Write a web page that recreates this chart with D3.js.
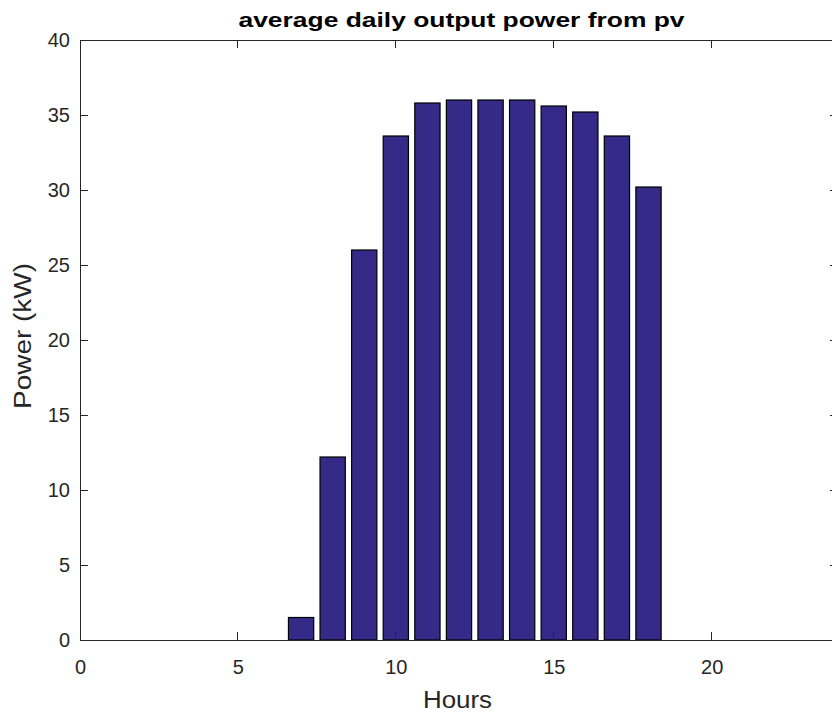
<!DOCTYPE html>
<html><head><meta charset="utf-8">
<script src="https://cdn.jsdelivr.net/npm/d3@7"></script>
<style>body{margin:0;background:#fff;}svg{display:block;font-family:"Liberation Sans",Arial,Helvetica,sans-serif;}</style>
</head><body>
<svg id="c" width="832" height="715"></svg>
<script>
const hours = [1,2,3,4,5,6,7,8,9,10,11,12,13,14,15,16,17,18,19,20,21,22,23,24];
const power = [0,0,0,0,0,0,1.5,12.2,26.0,33.6,35.8,36.0,36.0,36.0,35.6,35.2,33.6,30.2,0,0,0,0,0,0];
const xTicks = [0,5,10,15,20];
const yTicks = [0,5,10,15,20,25,30,35,40];
const title = "average daily output power from pv";
const xLabel = "Hours";
const yLabel = "Power (kW)";

const svg = d3.select("#c");
const m = {l:80, r:838, t:40, b:640};
const x = d3.scaleLinear().domain([0,24]).range([m.l, m.r]);
const y = d3.scaleLinear().domain([0,40]).range([m.b, m.t]);
const axisCol = "#262626";
const barW = x(0.8) - x(0);

// bars
svg.append("g").selectAll("rect").data(hours).join("rect")
  .attr("x", (d)=>x(d-0.4))
  .attr("y", (d,i)=>y(power[i]))
  .attr("width", barW)
  .attr("height", (d,i)=>y(0)-y(power[i]))
  .attr("fill", "#352a87")
  .attr("stroke", "#000")
  .attr("stroke-width", 1.2);

// box
const tl = 8;
const gA = svg.append("g").attr("stroke", axisCol).attr("stroke-width", 1).attr("fill","none");
gA.append("rect").attr("x", m.l).attr("y", m.t).attr("width", m.r-m.l).attr("height", m.b-m.t).attr("shape-rendering","crispEdges");

// axes
const xAx = d3.axisBottom(x).tickValues(xTicks).tickSize(0).tickPadding(20).tickFormat(d3.format("d"));
const gx = svg.append("g").attr("transform", `translate(0,${m.b})`).call(xAx);
gx.select(".domain").remove();
gx.selectAll("text").attr("font-size", 20).attr("fill", axisCol).attr("font-family","Liberation Sans, Arial, sans-serif");

const yAx = d3.axisLeft(y).tickValues(yTicks).tickSize(0).tickPadding(10).tickFormat(d3.format("d"));
const gy = svg.append("g").attr("transform", `translate(${m.l},0)`).call(yAx);
gy.select(".domain").remove();
gy.selectAll("text").attr("font-size", 20).attr("fill", axisCol).attr("font-family","Liberation Sans, Arial, sans-serif");

// inward tick marks on all four sides
xTicks.forEach(v=>{
  gA.append("line").attr("x1", x(v)).attr("x2", x(v)).attr("y1", m.b).attr("y2", m.b-tl);
  gA.append("line").attr("x1", x(v)).attr("x2", x(v)).attr("y1", m.t).attr("y2", m.t+tl);
});
yTicks.forEach(v=>{
  gA.append("line").attr("x1", m.l).attr("x2", m.l+tl).attr("y1", y(v)).attr("y2", y(v));
  gA.append("line").attr("x1", m.r).attr("x2", m.r-tl).attr("y1", y(v)).attr("y2", y(v));
});
gA.selectAll("line").attr("shape-rendering","crispEdges");

// labels
svg.append("text").attr("x", 461.5).attr("y", 27).attr("text-anchor","middle")
  .attr("font-size", 21).attr("font-weight","bold").attr("fill","#000")
  .attr("textLength", 446).attr("lengthAdjust","spacingAndGlyphs").text(title);
svg.append("text").attr("x", 457.5).attr("y", 708).attr("text-anchor","middle")
  .attr("font-size", 23).attr("fill", axisCol)
  .attr("textLength", 69).attr("lengthAdjust","spacingAndGlyphs").text(xLabel);
svg.append("text").attr("transform", "translate(31,336) rotate(-90)").attr("text-anchor","middle")
  .attr("font-size", 23).attr("fill", axisCol)
  .attr("textLength", 146).attr("lengthAdjust","spacingAndGlyphs").text(yLabel);
</script>
</body></html>
